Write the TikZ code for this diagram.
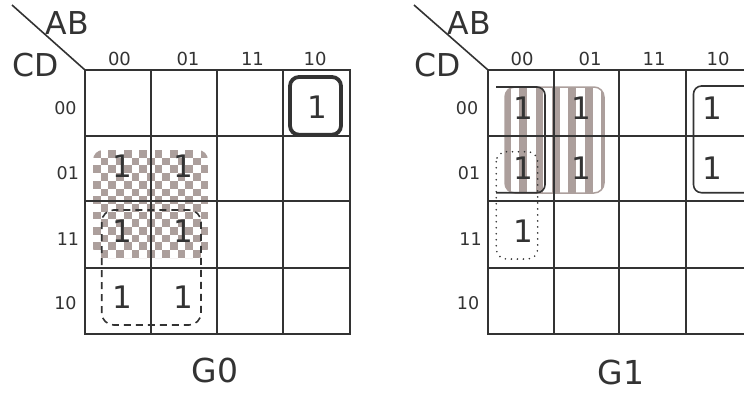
\documentclass[tikz,border=0pt]{standalone}
\usepackage{fontspec}
\setmainfont{DejaVu Sans}
\definecolor{ink}{RGB}{51,51,51}
\definecolor{tint}{RGB}{172,159,156}
\tikzset{
  kgrid/.style={draw=ink, line width=2pt},
  one/.style={font=\fontsize{31}{31}\selectfont, text=ink, inner sep=0pt},
  colhdr/.style={font=\fontsize{18}{18}\selectfont, text=ink, inner sep=0pt},
  rowhdr/.style={font=\fontsize{17.5}{17.5}\selectfont, text=ink, inner sep=0pt},
  varname/.style={font=\fontsize{31.5}{31.5}\selectfont, text=ink, inner sep=0pt},
  mapname/.style={font=\fontsize{33}{33}\selectfont, text=ink, inner sep=0pt},
  diag/.style={draw=ink, line width=1.6pt},
  grpsolid/.style={draw=ink, line width=1.6pt},
  grpthick/.style={draw=ink, line width=3.8pt},
  grpdash/.style={draw=ink, line width=1.6pt, dash pattern=on 7pt off 5pt},
  grpdot/.style={draw=ink, line width=1.8pt, line cap=round, dash pattern=on 0pt off 6pt},
}
\begin{document}
\begin{tikzpicture}[x=1pt,y=-1pt]
\useasboundingbox (0,0) rectangle (744,392);
\clip (0,0) rectangle (744,392);

% ---------- checkerboard group (G0) ----------
\begin{scope}
  \clip[rounded corners=10] (93,150) rectangle (208,258);
  \foreach \i in {0,...,15}{
    \foreach \j in {0,...,14}{
      \pgfmathtruncatemacro{\cpar}{mod(\i+\j,2)}
      \ifnum\cpar=0
        \fill[tint] ({93+\i*7.7},{150+\j*7.7}) rectangle +(7.7,7.7);
      \fi
    }
  }
\end{scope}

% ---------- striped group (G1) ----------
\begin{scope}
  \clip[rounded corners=10] (505,87) rectangle (604,193);
  \foreach \k in {0,...,6}{
    \fill[tint] ({502.7+\k*16.4},80) rectangle +(7.8,120);
  }
\end{scope}
\draw[tint, line width=1.5pt, rounded corners=10] (505,87) rectangle (604,193);

% ---------- G0 grid ----------
\draw[kgrid] (85,70) rectangle (350,334);
\foreach \x in {151,217,283} \draw[kgrid] (\x,70) -- (\x,334);
\foreach \y in {136,201,268} \draw[kgrid] (85,\y) -- (350,\y);
\coordinate (c0) at (85,70);
\coordinate (d0) at (12,5);
\draw[diag] (d0) -- (c0);

% ---------- G1 grid ----------
\draw[kgrid] (488,70) rectangle (752,334);
\foreach \x in {553.7,619.3,686.3} \draw[kgrid] (\x,70) -- (\x,334);
\foreach \y in {136,201,268} \draw[kgrid] (488,\y) -- (752,\y);
\coordinate (c1) at (488,70);
\coordinate (d1) at (414,5);
\draw[diag] (d1) -- (c1);

% ---------- group outlines ----------
\draw[grpthick, rounded corners=9] (290,77) rectangle (341,134.7);
\draw[grpdash, rounded corners=12] (101.7,210) rectangle (201,325);
\draw[grpsolid, rounded corners=8] (496,87) -- (545,87) -- (545,192.7) -- (496,192.7);
\draw[grpsolid, rounded corners=8] (760,86) -- (693.5,86) -- (693.5,192.7) -- (760,192.7);
\draw[grpdot, rounded corners=10] (496.3,151.7) rectangle (537.7,259);

% ---------- G0 labels ----------
\node[varname] (ab0) at (67.5,23.3) {AB};
\node[varname] (cd0) at (36,64.7) {CD};
\node[colhdr] (h00) at (119.5,59) {00};
\node[colhdr] (h01) at (188,59) {01};
\node[colhdr] (h11) at (252.5,59) {11};
\node[colhdr] (h10) at (315,59) {10};
\node[rowhdr] (r00) at (65.5,108) {00};
\node[rowhdr] (r01) at (67.8,173) {01};
\node[rowhdr] (r11) at (68,239) {11};
\node[rowhdr] (r10) at (65.5,303) {10};
\node[mapname] (g0) at (215,370.5) {G0};

\node[one] (a1) at (317.5,107.5) {1};
\node[one] (a2) at (122.5,166) {1};
\node[one] (a3) at (183,166) {1};
\node[one] (a4) at (122.5,231) {1};
\node[one] (a5) at (183,231) {1};
\node[one] (a6) at (122.5,297) {1};
\node[one] (a7) at (183,297) {1};

% ---------- G1 labels ----------
\node[varname] (ab1) at (469.5,23.3) {AB};
\node[varname] (cd1) at (437.5,64.7) {CD};
\node[colhdr] (k00) at (522,59) {00};
\node[colhdr] (k01) at (590,59) {01};
\node[colhdr] (k11) at (654,59) {11};
\node[colhdr] (k10) at (718,59) {10};
\node[rowhdr] (s00) at (467,108) {00};
\node[rowhdr] (s01) at (469,173) {01};
\node[rowhdr] (s11) at (470.5,239) {11};
\node[rowhdr] (s10) at (468,303) {10};
\node[mapname] (g1) at (621,372.5) {G1};

\node[one] (b1) at (523,108) {1};
\node[one] (b2) at (581.5,108) {1};
\node[one] (b3) at (712,108) {1};
\node[one] (b4) at (523,168) {1};
\node[one] (b5) at (581.5,168) {1};
\node[one] (b6) at (712,168) {1};
\node[one] (b7) at (523,231) {1};
\end{tikzpicture}
\end{document}
